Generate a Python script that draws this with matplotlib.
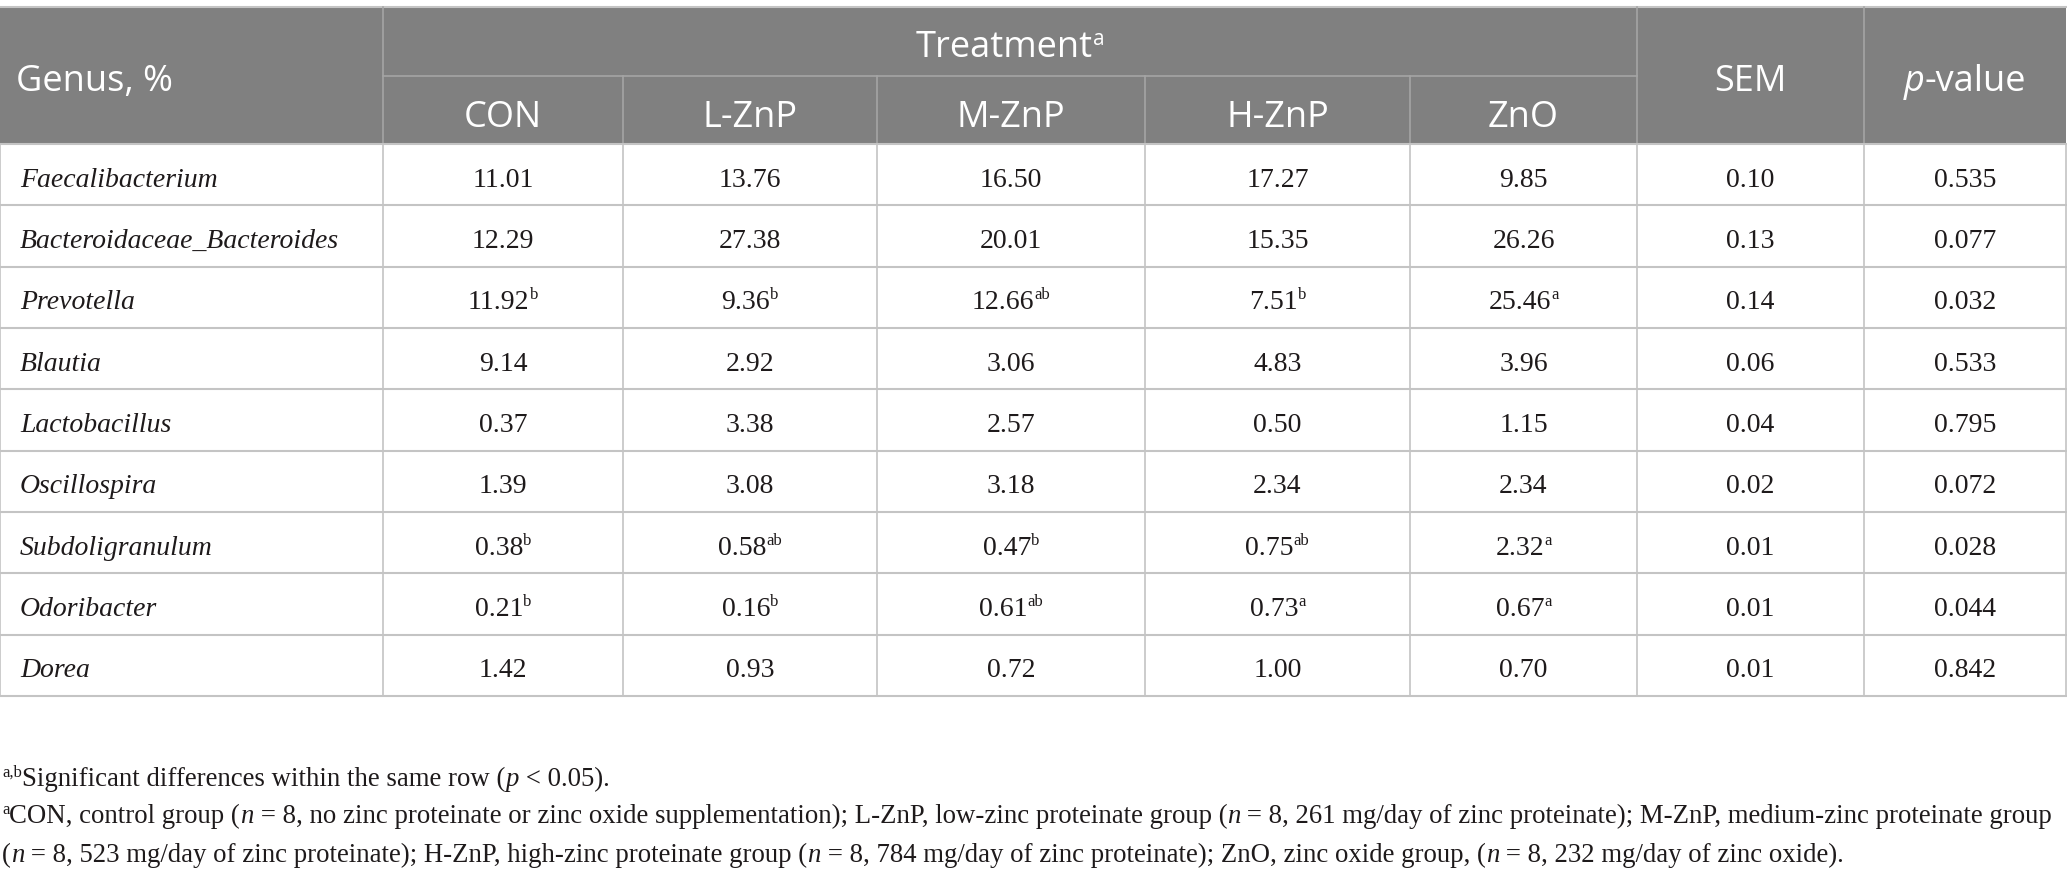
import matplotlib

matplotlib.use("Agg")
import matplotlib.pyplot as plt
from matplotlib.patches import Rectangle

# ---- table content -------------------------------------------------------
genera = [
    "Faecalibacterium",
    "Bacteroidaceae_Bacteroides",
    "Prevotella",
    "Blautia",
    "Lactobacillus",
    "Oscillospira",
    "Subdoligranulum",
    "Odoribacter",
    "Dorea",
]
groups = ["CON", "L-ZnP", "M-ZnP", "H-ZnP", "ZnO"]

con = [11.01, 12.29, 11.92, 9.14, 0.37, 1.39, 0.38, 0.21, 1.42]
l_znp = [13.76, 27.38, 9.36, 2.92, 3.38, 3.08, 0.58, 0.16, 0.93]
m_znp = [16.50, 20.01, 12.66, 3.06, 2.57, 3.18, 0.47, 0.61, 0.72]
h_znp = [17.27, 15.35, 7.51, 4.83, 0.50, 2.34, 0.75, 0.73, 1.00]
zno = [9.85, 26.26, 25.46, 3.96, 1.15, 2.34, 2.32, 0.67, 0.70]

con_sup = ["", "", "b", "", "", "", "b", "b", ""]
l_znp_sup = ["", "", "b", "", "", "", "ab", "b", ""]
m_znp_sup = ["", "", "ab", "", "", "", "b", "ab", ""]
h_znp_sup = ["", "", "b", "", "", "", "ab", "a", ""]
zno_sup = ["", "", "a", "", "", "", "a", "a", ""]

sem = [0.10, 0.13, 0.14, 0.06, 0.04, 0.02, 0.01, 0.01, 0.01]
p_values = [0.535, 0.077, 0.032, 0.533, 0.795, 0.072, 0.028, 0.044, 0.842]

# ---- layout --------------------------------------------------------------
W, H = 2067, 879
HEADER_BG = "#808080"
HEADER_LINE = "#a5a5a5"
GRID = "#c4c4c4"
TEXT = "#1e1a1b"
SANS = "Open Sans"
SERIF = "Liberation Serif"

col_edges = [0, 383, 623, 877, 1145, 1410, 1637, 1864, 2066]
head_top, head_mid, head_bot = 8, 77, 145
row_h = (697 - head_bot) / len(genera)

fig = plt.figure(figsize=(W / 100, H / 100), dpi=100)
ax = fig.add_axes([0, 0, 1, 1])
ax.set_xlim(0, W)
ax.set_ylim(H, 0)
ax.axis("off")
renderer = fig.canvas.get_renderer()


def rich(x, y, parts, ha="left"):
    """Draw (text, kwargs, rise) pieces one after another on a baseline."""
    arts, widths = [], []
    for s, kw, rise in parts:
        t = ax.text(0, y - rise, s, va="baseline", ha="left", **kw)
        arts.append(t)
        widths.append(t.get_window_extent(renderer).width)
    x0 = x - sum(widths) / 2 if ha == "center" else x
    for t, w in zip(arts, widths):
        t.set_x(x0)
        x0 += w


head_kw = dict(family=SANS, size=26, color="white")
head_sup = dict(family=SANS, size=15, color="white")
body_kw = dict(family=SERIF, size=20, color=TEXT)
body_it = dict(family=SERIF, size=20, color=TEXT, style="italic")
sup_kw = dict(family=SERIF, size=12, color=TEXT)

# header background and lines
ax.add_patch(Rectangle((0, head_top), col_edges[-1], head_bot - head_top,
                       facecolor=HEADER_BG, edgecolor="none"))
ax.plot([0, col_edges[-1]], [head_top, head_top], color=GRID, lw=1.5)
for xe in (col_edges[1], col_edges[6], col_edges[7]):
    ax.plot([xe, xe], [head_top, head_bot], color=HEADER_LINE, lw=1.2)
for xe in col_edges[2:6]:
    ax.plot([xe, xe], [head_mid, head_bot], color=HEADER_LINE, lw=1.2)
ax.plot([col_edges[1], col_edges[6]], [head_mid, head_mid], color=HEADER_LINE, lw=1.2)

# header text
rich(16, 91, [("Genus, %", head_kw, 0)])
rich((col_edges[1] + col_edges[6]) / 2, 57,
     [("Treatment", head_kw, 0), ("a", head_sup, 12)], ha="center")
for j, g in enumerate(groups):
    rich((col_edges[j + 1] + col_edges[j + 2]) / 2, 127, [(g, head_kw, 0)], ha="center")
rich((col_edges[6] + col_edges[7]) / 2, 91, [("SEM", head_kw, 0)], ha="center")
rich((col_edges[7] + col_edges[8]) / 2, 91,
     [("p", dict(head_kw, style="italic"), 0), ("-value", head_kw, 0)], ha="center")

# body grid
for i in range(len(genera) + 1):
    y = head_bot + i * row_h
    ax.plot([0, col_edges[-1]], [y, y], color=GRID, lw=1.5)
for xe in col_edges:
    ax.plot([xe, xe], [head_bot, head_bot + len(genera) * row_h], color=GRID, lw=1.2)

# body text
series = [(con, con_sup), (l_znp, l_znp_sup), (m_znp, m_znp_sup),
          (h_znp, h_znp_sup), (zno, zno_sup)]
for i, name in enumerate(genera):
    base = head_bot + (i + 0.5) * row_h + 11
    rich(20, base, [(name, body_it, 0)])
    for j, (vals, sups) in enumerate(series):
        parts = [(f"{vals[i]:.2f}", body_kw, 0)]
        if sups[i]:
            parts.append((sups[i], sup_kw, 10))
        rich((col_edges[j + 1] + col_edges[j + 2]) / 2, base, parts, ha="center")
    rich((col_edges[6] + col_edges[7]) / 2, base, [(f"{sem[i]:.2f}", body_kw, 0)], ha="center")
    rich((col_edges[7] + col_edges[8]) / 2, base, [(f"{p_values[i]:.3f}", body_kw, 0)], ha="center")

# footnotes
note_kw = dict(family=SERIF, size=19.3, color=TEXT)
note_it = dict(note_kw, style="italic")
note_sup = dict(family=SERIF, size=12, color=TEXT)
rich(2, 786, [("a,b", note_sup, 9),
              ("Significant differences within the same row (", note_kw, 0),
              ("p", note_it, 0), (" < 0.05).", note_kw, 0)])
rich(2, 823, [("a", note_sup, 9),
              ("CON, control group (", note_kw, 0), ("n", note_it, 0),
              (" = 8, no zinc proteinate or zinc oxide supplementation); L-ZnP, "
               "low-zinc proteinate group (", note_kw, 0), ("n", note_it, 0),
              (" = 8, 261 mg/day of zinc proteinate); M-ZnP, medium-zinc proteinate group",
               note_kw, 0)])
rich(2, 862, [("(", note_kw, 0), ("n", note_it, 0),
              (" = 8, 523 mg/day of zinc proteinate); H-ZnP, high-zinc proteinate group (",
               note_kw, 0), ("n", note_it, 0),
              (" = 8, 784 mg/day of zinc proteinate); ZnO, zinc oxide group, (", note_kw, 0),
              ("n", note_it, 0), (" = 8, 232 mg/day of zinc oxide).", note_kw, 0)])

fig.savefig("out.png", dpi=100)
plt.close(fig)
